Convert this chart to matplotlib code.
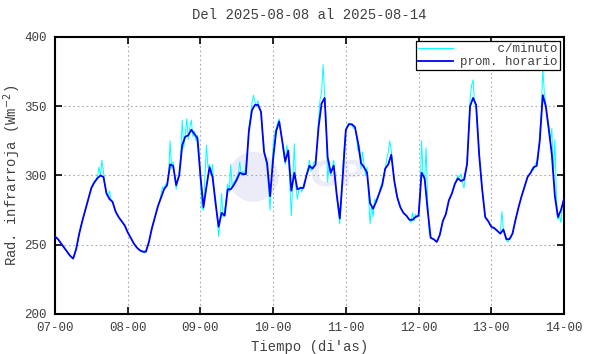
"""
    Radiacion infrarroja: datos c/minuto y promedio horario
    Del 2025-08-08 al 2025-08-14
"""

# %% Library
import numpy as np
import matplotlib
matplotlib.use("Agg")
import matplotlib.pyplot as plt
from matplotlib.patches import Ellipse

plt.rcParams["font.family"] = ["Liberation Mono", "DejaVu Sans Mono"]

# %% Data
# promedio horario, hora 0 (07-00) a hora 168 (14-00)
prom_horario = [
    256, 254, 251, 248, 245, 242, 240, 247, 258, 267, 275, 283,
    291, 295, 298, 300, 299, 287, 283, 281, 274, 270, 267, 264,
    259, 255, 251, 248, 246, 245, 245, 252, 262, 270, 278, 284,
    290, 293, 308, 307, 293, 300, 322, 328, 329, 333, 330, 327,
    300, 277, 292, 306, 299, 280, 263, 273, 271, 290, 290, 293,
    297, 302, 301, 301, 332, 347, 351, 351, 346, 317, 309, 285,
    312, 332, 339, 325, 310, 318, 289, 302, 290, 291, 291, 300,
    307, 305, 308, 335, 352, 356, 313, 302, 307, 286, 269, 300,
    333, 337, 337, 335, 324, 309, 306, 302, 280, 276, 281, 287,
    293, 305, 308, 315, 296, 284, 277, 273, 271, 268, 268, 270,
    271, 302, 298, 275, 255, 254, 252, 257, 267, 272, 282, 287,
    294, 298, 296, 297, 308, 350, 356, 351, 315, 290, 270, 267,
    263, 262, 260, 258, 261, 254, 254, 258, 268, 277, 285, 292,
    299, 302, 306, 307, 325, 358, 350, 333, 315, 285, 270, 275,
    283,
]

# c/minuto, leido cada media hora
c_minuto = [
    # dia 07
    256, 255, 254, 252, 251, 249, 248, 246, 245, 243, 242, 241,
    240, 243, 247, 252, 258, 263, 267, 271, 275, 279, 283, 287,
    291, 294, 296, 297, 299, 306, 300, 311, 303, 292, 287, 285,
    289, 282, 281, 277, 274, 272, 270, 268, 267, 265, 264, 261,
    # dia 08
    259, 257, 255, 253, 251, 249, 248, 247, 246, 245, 245, 244,
    245, 248, 252, 257, 262, 266, 270, 274, 278, 281, 286, 292,
    290, 294, 293, 300, 325, 305, 310, 300, 290, 297, 302, 315,
    340, 320, 330, 341, 326, 335, 340, 328, 332, 325, 329, 320,
    # dia 09
    296, 276, 275, 300, 322, 306, 308, 300, 308, 290, 284, 270,
    256, 268, 287, 270, 274, 283, 294, 288, 308, 292, 295, 296,
    299, 301, 310, 300, 303, 300, 308, 318, 335, 342, 352, 358,
    353, 350, 354, 349, 345, 330, 320, 312, 306, 290, 275, 300,
    # dia 10
    322, 330, 334, 338, 341, 332, 325, 315, 308, 322, 316, 295,
    271, 296, 323, 292, 283, 290, 292, 288, 293, 296, 301, 305,
    311, 303, 306, 310, 310, 322, 340, 355, 360, 380, 358, 340,
    295, 310, 300, 305, 311, 296, 284, 276, 265, 280, 305, 322,
    # dia 11
    333, 336, 338, 337, 336, 334, 335, 328, 318, 322, 305, 317,
    308, 300, 306, 285, 265, 278, 270, 283, 281, 285, 287, 292,
    295, 300, 305, 312, 317, 325, 318, 306, 296, 288, 284, 280,
    277, 275, 273, 272, 271, 269, 268, 266, 273, 267, 272, 270,
    # dia 12
    271, 284, 325, 300, 296, 320, 282, 258, 256, 254, 254, 253,
    252, 254, 257, 262, 267, 270, 272, 277, 282, 285, 287, 291,
    294, 297, 300, 299, 301, 295, 291, 300, 310, 330, 355, 365,
    369, 352, 350, 333, 318, 300, 290, 280, 270, 268, 267, 265,
    # dia 13
    263, 262, 262, 261, 260, 259, 258, 274, 261, 256, 253, 252,
    255, 255, 258, 262, 268, 272, 277, 281, 285, 289, 292, 296,
    299, 300, 302, 305, 304, 308, 310, 312, 330, 345, 378, 360,
    352, 342, 336, 325, 334, 300, 326, 285, 268, 271, 266, 280,
    284,
]

day_labels = ["07-00", "08-00", "09-00", "10-00", "11-00", "12-00", "13-00", "14-00"]

t_horario = np.arange(len(prom_horario)) / 24.0
t_minuto = np.arange(len(c_minuto)) / 48.0

# %% Plot
fig = plt.figure(figsize=(5.9, 3.54), dpi=100)
ax = fig.add_axes([0.0932, 0.113, 0.8627, 0.7825])

# logo de fondo (muy tenue)
ax.add_patch(Ellipse((0.39, 0.495), 0.098, 0.18, transform=ax.transAxes,
                     facecolor="#ececf9", edgecolor="none", zorder=0))
ax.text(0.555, 0.5, "GP", transform=ax.transAxes, fontsize=26,
        fontweight="bold", family="DejaVu Sans", color="#ececf9",
        ha="center", va="center", zorder=0)

ax.plot(t_minuto, c_minuto, color="#00ffff", lw=0.7, label="     c/minuto", zorder=2)
ax.plot(t_horario, prom_horario, color="#0000ff", lw=1.3, label="prom. horario", zorder=3)

ax.set_xlim(0, 7)
ax.set_ylim(200, 400)
ax.set_xticks(range(8))
ax.set_xticklabels(day_labels)
ax.set_yticks([200, 250, 300, 350, 400])

ax.grid(True, linestyle=(0, (1.5, 2.5)), color="#a8a8a8", lw=0.8)
ax.tick_params(direction="in", length=5, width=1.2, top=True, right=True,
               labelsize=9, labelcolor="#404040", pad=6)
for s in ax.spines.values():
    s.set_linewidth(1.5)

ax.set_title("Del 2025-08-08 al 2025-08-14", fontsize=10, color="#404040", pad=13)
ax.set_xlabel("Tiempo (di'as)", fontsize=10, color="#404040", labelpad=4)
ax.set_ylabel("Rad. infrarroja (Wm$^{-2}$)", fontsize=10, color="#404040", labelpad=1)

leg = ax.legend(loc="upper right", fontsize=9, handlelength=2.8, fancybox=False,
                framealpha=1, edgecolor="black", borderaxespad=0.35,
                borderpad=0.15, labelspacing=0.1, handletextpad=0.6)
leg.get_frame().set_linewidth(0.9)
for t in leg.get_texts():
    t.set_color("#404040")

fig.savefig("out.png", dpi=100)
